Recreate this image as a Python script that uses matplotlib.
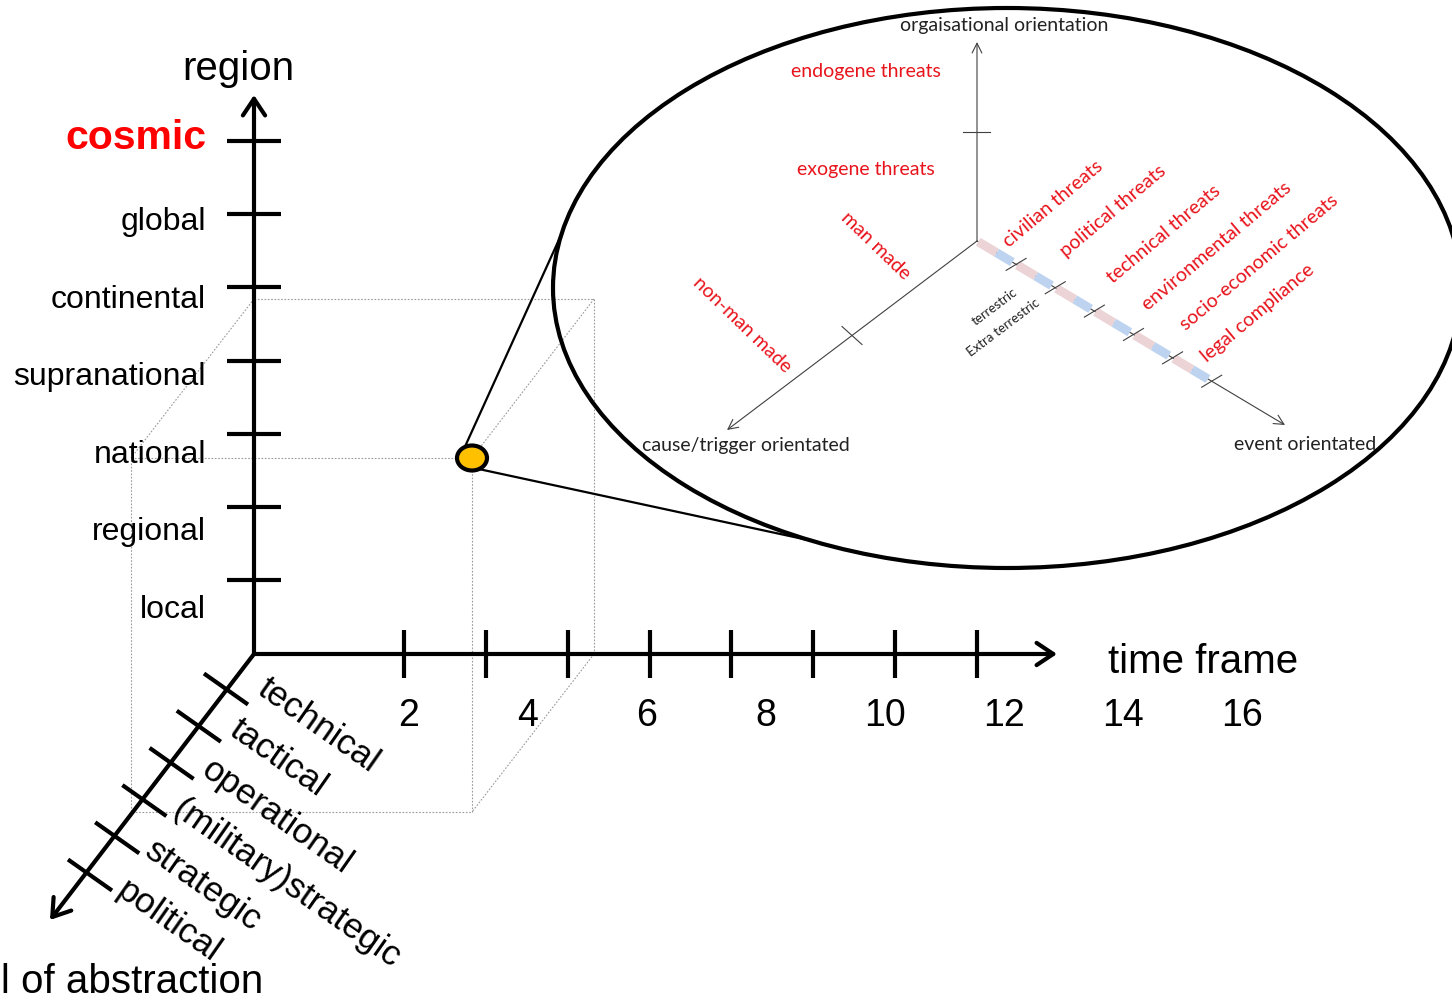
import matplotlib
matplotlib.use('Agg')
import matplotlib.pyplot as plt
from matplotlib.patches import Ellipse
import numpy as np

# ---------------- data ----------------
region_labels = ['cosmic', 'global', 'continental', 'supranational',
                 'national', 'regional', 'local']
time_labels = ['2', '4', '6', '8', '10', '12', '14', '16']
abstraction_labels = ['technical', 'tactical', 'operational',
                      '(military)strategic', 'strategic', 'political']
axis_titles = ['region', 'time frame', 'level of abstraction']
n_time_ticks = 8

inner_axis_titles = ['orgaisational orientation', 'cause/trigger orientated',
                     'event orientated']
organisation_labels = ['endogene threats', 'exogene threats']
trigger_labels = ['man made', 'non-man made']
event_labels = ['civilian threats', 'political threats', 'technical threats',
                'environmental threats', 'socio-economic threats',
                'legal compliance']
terrestric_labels = ['terrestric', 'Extra terrestric']

# ---------------- layout ----------------
W, H = 1452, 1001
fig = plt.figure(figsize=(W / 100, H / 100), dpi=100)
ax = fig.add_axes([0, 0, 1, 1])
ax.set_xlim(0, W)
ax.set_ylim(H, 0)
ax.axis('off')

SANS = 'Liberation Sans'
CAL = 'Lato'
LW = 3.0
RED = '#E8141C'

ox, oy = 254, 654

def arrow(p0, p1, lw, ms, hl=0.6, hw=0.4, color='black', z=3):
    ax.annotate('', xy=p1, xytext=p0,
                arrowprops=dict(arrowstyle=f'->,head_length={hl},head_width={hw}',
                                lw=lw, color=color, shrinkA=0, shrinkB=0,
                                mutation_scale=ms), zorder=z)

# dotted cube
box = dict(color='#9a9a9a', lw=0.8, ls=(0, (1.5, 1.5)), zorder=1)
bx0, bx1, by0, by1 = 131, 472, 458, 812   # front face
kx0, kx1, ky0, ky1 = 254, 594, 299, 654   # back face
ax.plot([bx0, bx1, bx1, bx0, bx0], [by0, by0, by1, by1, by0], **box)
ax.plot([kx0, kx1, kx1], [ky0, ky0, ky1], **box)
ax.plot([kx0, bx0], [ky0, by0], **box)
ax.plot([kx1, bx1], [ky0, by0], **box)
ax.plot([kx1, bx1], [ky1, by1], **box)

# vertical axis (region)
arrow((ox, oy), (ox, 95), LW, 20)
v_tick0, v_step = 141, 73.2
for i, lab in enumerate(region_labels):
    ty = v_tick0 + i * v_step
    ax.plot([227, 281], [ty, ty], color='black', lw=LW, solid_capstyle='butt')
    if i == 0:
        ax.text(206, 138, lab, ha='right', va='center', fontsize=29.5,
                fontweight='bold', color='#FF0000', family=SANS)
    else:
        ly = 222 + (i - 1) * 77.6
        ax.text(206, ly, lab, ha='right', va='center', fontsize=23,
                color='black', family=SANS)
ax.text(238, 69, axis_titles[0], ha='center', va='center', fontsize=29,
        family=SANS)

# horizontal axis (time frame)
arrow((ox, oy), (1057, oy), LW, 20)
h_tick0, h_step = 404, 81.86
for i in range(n_time_ticks):
    tx = h_tick0 + i * h_step
    ax.plot([tx, tx], [630, 678], color='black', lw=LW, solid_capstyle='butt')
for i, lab in enumerate(time_labels):
    ax.text(409 + i * 119, 716, lab, ha='center', va='center', fontsize=27,
            family=SANS)
ax.text(1203, 662, axis_titles[1], ha='center', va='center', fontsize=29,
        family=SANS)

# diagonal axis (level of abstraction)
arrow((ox, oy), (50, 920), LW, 20)
d0 = np.array([226, 689.0])
dstep = np.array([-27.2, 37.2])
tick_half = np.array([22, 15.5])
for i, lab in enumerate(abstraction_labels):
    c = d0 + i * dstep
    p, q = c - tick_half, c + tick_half
    ax.plot([p[0], q[0]], [p[1], q[1]], color='black', lw=LW,
            solid_capstyle='butt')
    a = np.array([270, 672.0]) + i * np.array([-28, 40.4])
    ax.text(a[0], a[1], lab, ha='left', va='top', rotation=-35,
            rotation_mode='anchor', fontsize=25.5, family=SANS)
ax.text(263, 982, axis_titles[2], ha='right', va='center', fontsize=29,
        family=SANS)

# magnifier
ecx, ecy, ea, eb = 1007, 288, 454, 280
ax.add_patch(Ellipse((ecx, ecy), 2 * ea, 2 * eb, fill=False, ec='black',
                     lw=3, zorder=3))
ax.plot([463, 562], [451, 233], color='black', lw=1.6, zorder=3)
ax.plot([474, 815], [468, 541.5], color='black', lw=1.6, zorder=3)
ax.add_patch(Ellipse((472, 458), 30, 25, fc='#FFC000', ec='black', lw=3,
                     zorder=5))

# inner axes
io = np.array([977, 241.0])
GR = '#404040'
up_tip = np.array([977, 42.0])
left_tip = np.array([727, 430.0])
right_tip = np.array([1285, 425.0])
for tip in (up_tip, left_tip, right_tip):
    arrow(tuple(io), tuple(tip), 0.8, 10, hl=0.7, hw=0.35, color=GR, z=2)

# tick on vertical inner axis
ax.plot([963, 990], [132, 132], color=GR, lw=0.8)
# tick on left inner axis
m = io + 0.5 * (left_tip - io)
ax.plot([m[0] - 10, m[0] + 10], [m[1] - 9, m[1] + 9], color=GR, lw=0.8)

# colored band + ticks on right inner axis
rv = right_tip - io
seg = 0.127
for k in range(len(event_labels)):
    s0 = io + (k * seg + 0.004) * rv
    s_mid = io + (k * seg + seg / 2) * rv
    s1 = io + ((k + 1) * seg - 0.012) * rv
    ax.plot([s0[0], s_mid[0]], [s0[1], s_mid[1]], color='#EBD3D6', lw=6.5,
            solid_capstyle='butt', zorder=6)
    ax.plot([s_mid[0], s1[0]], [s_mid[1], s1[1]], color='#BDD3EF', lw=6.5,
            solid_capstyle='butt', zorder=6)
    t = io + (k + 1) * seg * rv
    ax.plot([t[0] - 10, t[0] + 10], [t[1] + 6, t[1] - 6], color=GR, lw=0.8,
            zorder=7)

# inner texts
ax.text(1004, 26, inner_axis_titles[0], ha='center', va='center',
        fontsize=14, family=CAL, color='#222222')
ax.text(746, 445, inner_axis_titles[1], ha='center', va='center',
        fontsize=14, family=CAL, color='#222222')
ax.text(1305, 445, inner_axis_titles[2], ha='center', va='center',
        fontsize=14, family=CAL, color='#222222')

for lab, y in zip(organisation_labels, [72, 170]):
    ax.text(866, y, lab, ha='center', va='center', fontsize=14, family=CAL,
            color=RED)
for lab, (x, y) in zip(trigger_labels, [(876, 246), (742, 325)]):
    ax.text(x, y, lab, ha='center', va='center', rotation=-44,
            rotation_mode='anchor', fontsize=14, family=CAL, color=RED)
ev_pos = [(1053, 204), (1113, 211), (1164, 234), (1217, 246), (1259, 262),
          (1258, 313)]
for lab, (x, y) in zip(event_labels, ev_pos):
    ax.text(x, y, lab, ha='center', va='center', rotation=40,
            rotation_mode='anchor', fontsize=14, family=CAL, color=RED)
for lab, (x, y) in zip(terrestric_labels, [(995, 307), (1003, 328)]):
    ax.text(x, y, lab, ha='center', va='center', rotation=37,
            rotation_mode='anchor', fontsize=9.5, family=CAL, color='#222222')

fig.savefig('out.png', dpi=100)
